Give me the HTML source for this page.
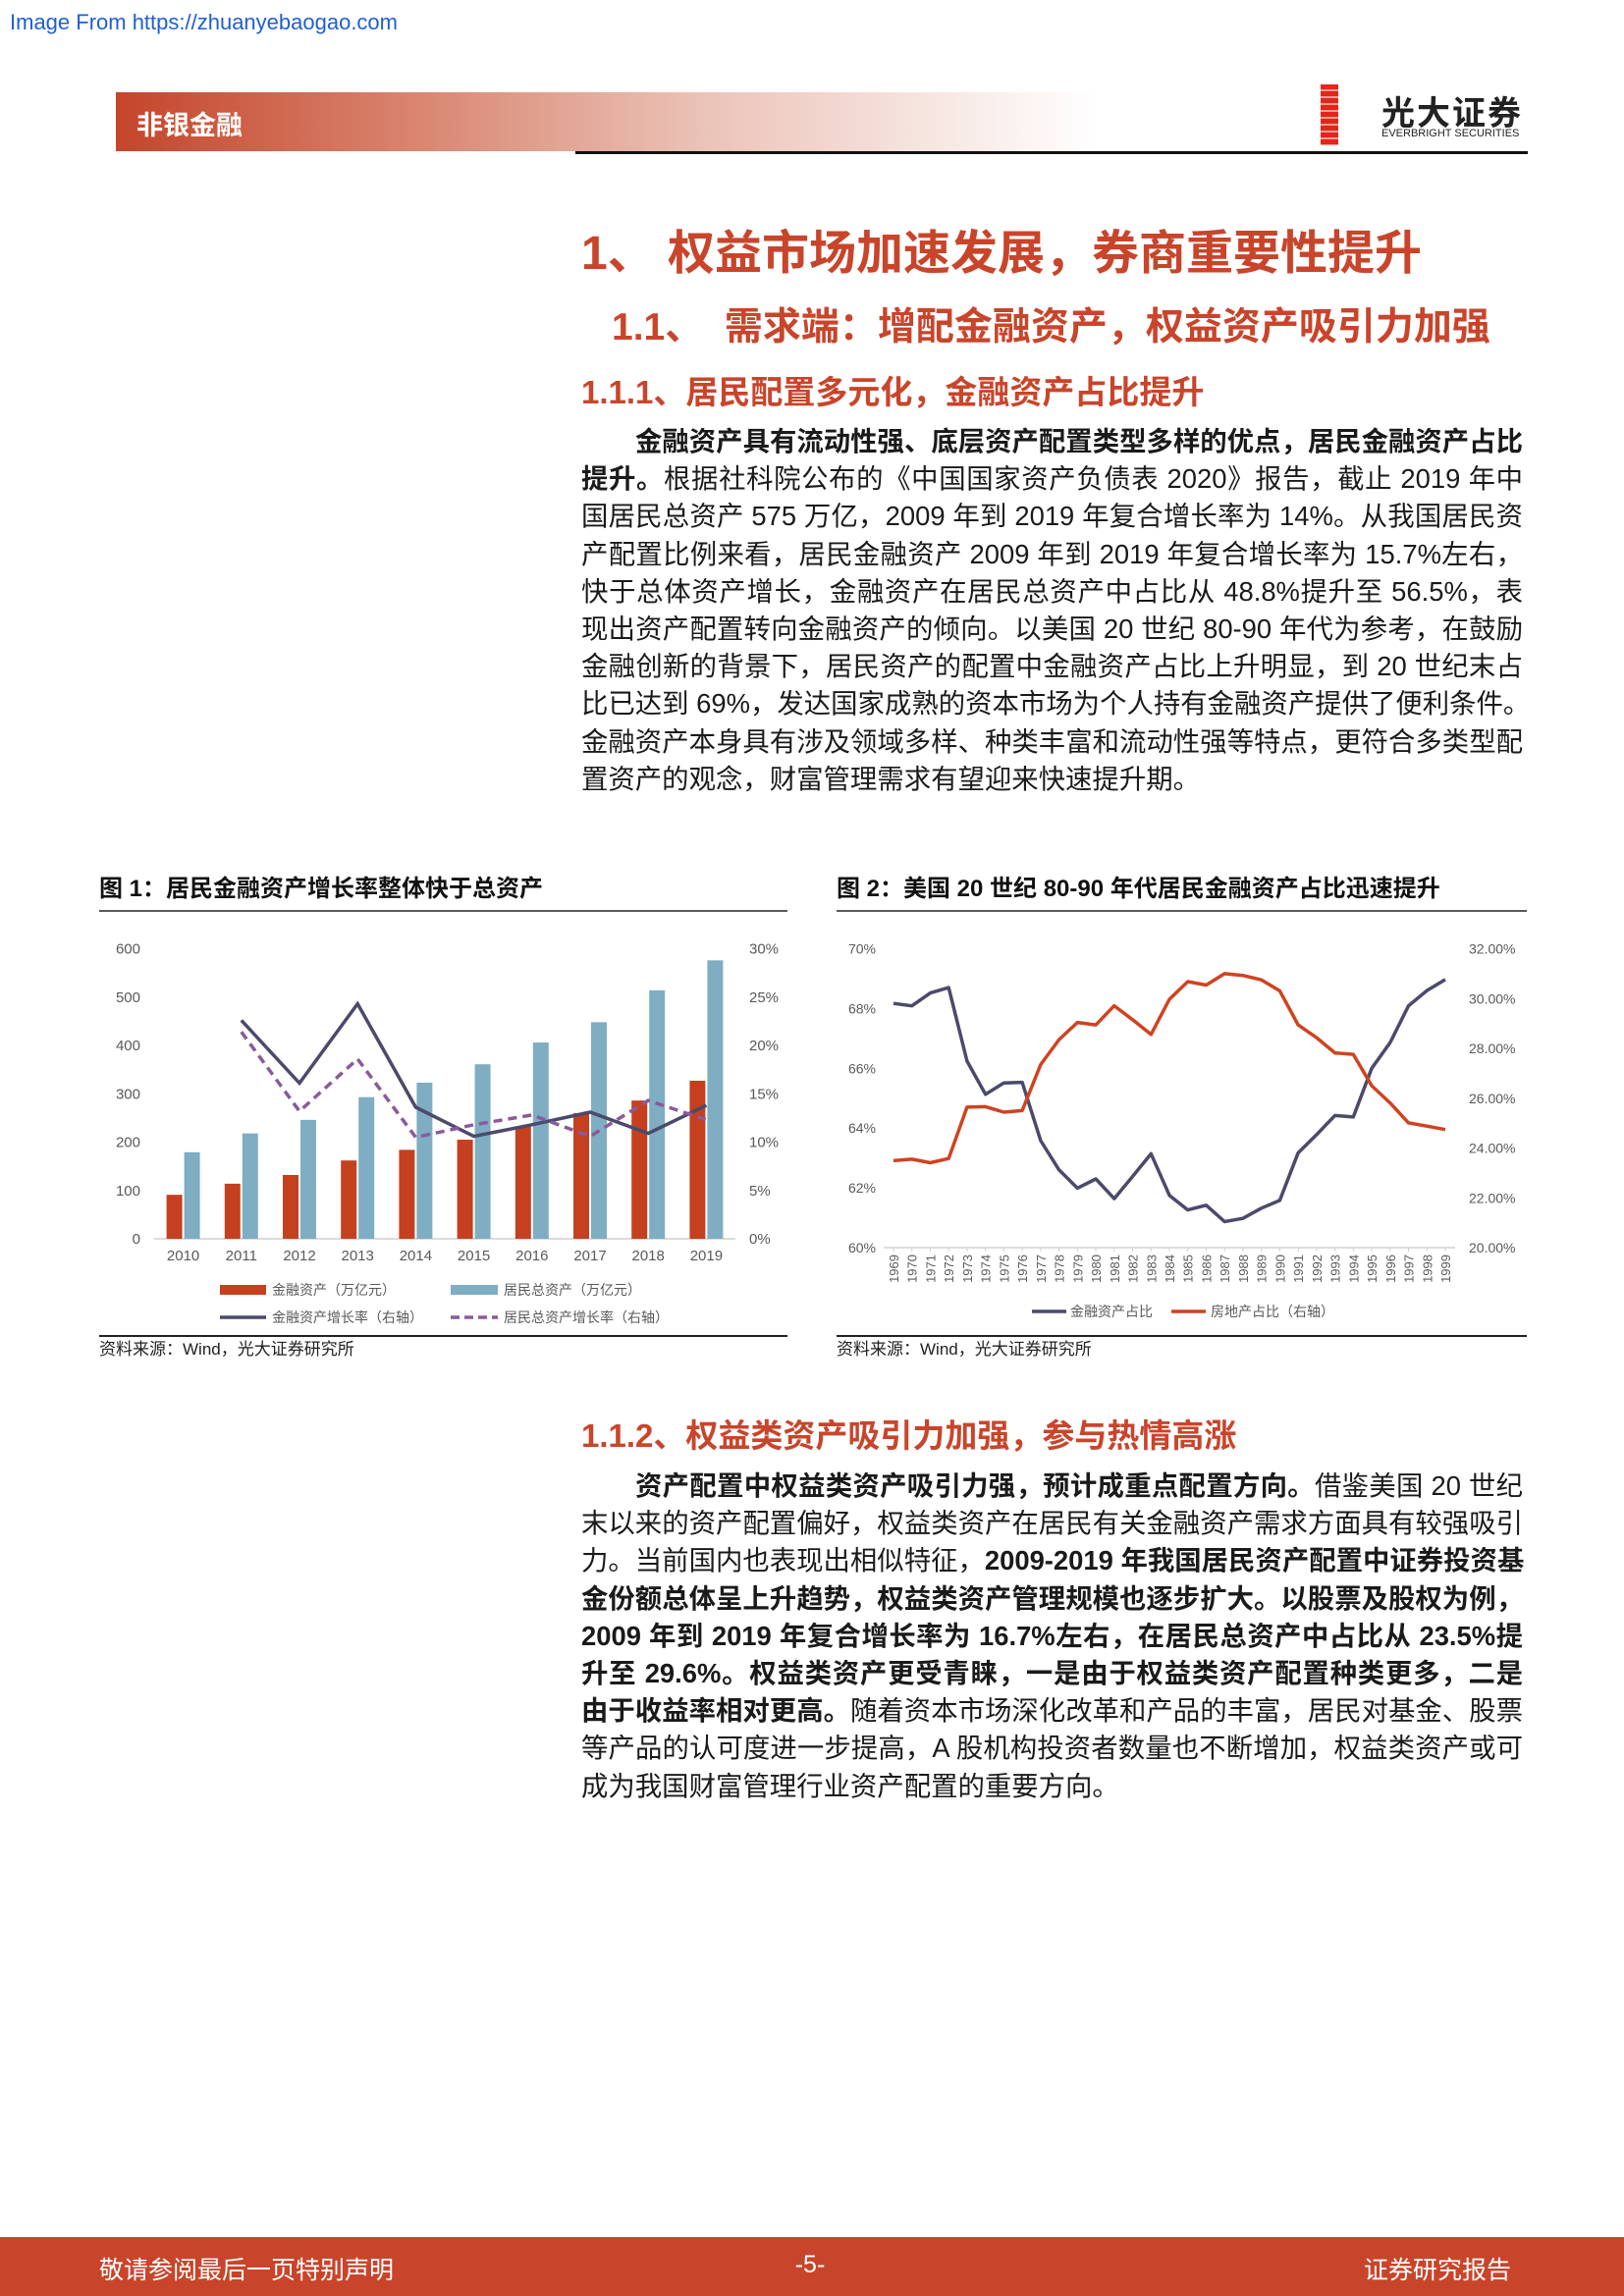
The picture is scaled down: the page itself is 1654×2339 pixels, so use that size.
<!DOCTYPE html>
<html><head><meta charset="utf-8">
<style>
html,body{margin:0;padding:0;background:#fff;}
body{width:1654px;height:2339px;position:relative;overflow:hidden;font-family:"Liberation Sans","Noto Sans CJK SC",sans-serif;}
.abs{position:absolute;}
.h{color:#c8452b;font-weight:bold;white-space:nowrap;}
.para{position:absolute;left:592px;width:959px;font-size:27.4px;line-height:38.2px;color:#1a1a1a;}
.para div{text-align:justify;text-align-last:justify;height:38.2px;white-space:nowrap;overflow:visible;}
.para div.last{text-align-last:left;}
.para div.ind{padding-left:55px;}
b{font-weight:bold;}
</style></head><body>
<div class="abs" style="left:10px;top:10px;font-size:22px;color:#1f5fcf;">Image From https://zhuanyebaogao.com</div>

<div class="abs" style="left:118px;top:94px;width:1000px;height:60px;background:linear-gradient(90deg,#c4452a 0%,#d9846f 30%,#ebc3b8 60%,#fff 100%);"></div>
<div class="abs" style="left:139px;top:106px;font-size:27px;color:#fff;font-weight:bold;">非银金融</div>
<div class="abs" style="left:586px;top:154px;width:970px;height:3px;background:#111;"></div>
<div class="abs" style="left:1345px;top:86px;width:210px;height:62px;">
 <div style="position:absolute;left:0;top:0;width:18px;height:62px;background:repeating-linear-gradient(180deg,#e2261c 0 5px,#f3a08d 5px 7px);"></div>
 <div style="position:absolute;left:62px;top:2px;font-size:34px;font-weight:bold;color:#222;letter-spacing:2px;">光大证券</div>
 <div style="position:absolute;left:62px;top:44px;font-size:11px;color:#222;">EVERBRIGHT SECURITIES</div>
</div>

<div class="abs h" style="left:592px;top:218px;font-size:48px;">1、 权益市场加速发展，券商重要性提升</div>
<div class="abs h" style="left:623px;top:302px;font-size:39px;">1.1、&nbsp;&nbsp;需求端：增配金融资产，权益资产吸引力加强</div>
<div class="abs h" style="left:592px;top:373px;font-size:33px;">1.1.1、居民配置多元化，金融资产占比提升</div>

<div class="para" style="top:431px;">
<div class="ind"><b>金融资产具有流动性强、底层资产配置类型多样的优点，居民金融资产占比</b></div>
<div><b>提升。</b>根据社科院公布的《中国国家资产负债表 2020》报告，截止 2019 年中</div>
<div>国居民总资产 575 万亿，2009 年到 2019 年复合增长率为 14%。从我国居民资</div>
<div>产配置比例来看，居民金融资产 2009 年到 2019 年复合增长率为 15.7%左右，</div>
<div>快于总体资产增长，金融资产在居民总资产中占比从 48.8%提升至 56.5%，表</div>
<div>现出资产配置转向金融资产的倾向。以美国 20 世纪 80-90 年代为参考，在鼓励</div>
<div>金融创新的背景下，居民资产的配置中金融资产占比上升明显，到 20 世纪末占</div>
<div>比已达到 69%，发达国家成熟的资本市场为个人持有金融资产提供了便利条件。</div>
<div>金融资产本身具有涉及领域多样、种类丰富和流动性强等特点，更符合多类型配</div>
<div class="last">置资产的观念，财富管理需求有望迎来快速提升期。</div>
</div>

<div class="abs h" style="left:592px;top:1436px;font-size:33px;">1.1.2、权益类资产吸引力加强，参与热情高涨</div>
<div class="para" style="top:1495px;">
<div class="ind"><b>资产配置中权益类资产吸引力强，预计成重点配置方向。</b>借鉴美国 20 世纪</div>
<div>末以来的资产配置偏好，权益类资产在居民有关金融资产需求方面具有较强吸引</div>
<div>力。当前国内也表现出相似特征，<b>2009-2019 年我国居民资产配置中证券投资基</b></div>
<div><b>金份额总体呈上升趋势，权益类资产管理规模也逐步扩大。以股票及股权为例，</b></div>
<div><b>2009 年到 2019 年复合增长率为 16.7%左右，在居民总资产中占比从 23.5%提</b></div>
<div><b>升至 29.6%。权益类资产更受青睐，一是由于权益类资产配置种类更多，二是</b></div>
<div><b>由于收益率相对更高。</b>随着资本市场深化改革和产品的丰富，居民对基金、股票</div>
<div>等产品的认可度进一步提高，A 股机构投资者数量也不断增加，权益类资产或可</div>
<div class="last">成为我国财富管理行业资产配置的重要方向。</div>
</div>

<div class="abs" style="left:0;top:2279px;width:1654px;height:60px;background:#c8452b;"></div>
<div class="abs" style="left:101px;top:2293px;font-size:25px;color:#fff;">敬请参阅最后一页特别声明</div>
<div class="abs" style="left:800px;width:50px;text-align:center;top:2293px;font-size:25px;color:#fff;">-5-</div>
<div class="abs" style="right:115px;top:2293px;font-size:25px;color:#fff;">证券研究报告</div>

<svg id="charts" class="abs" style="left:0;top:0;" width="1654" height="2339" xmlns="http://www.w3.org/2000/svg" font-family="Liberation Sans, Noto Sans CJK SC, sans-serif"></svg>

<script>
// Chart 1 data
const years1 = ['2010','2011','2012','2013','2014','2015','2016','2017','2018','2019'];
const finAssets = [91,114,132,162,184,205,232,260,286,327];
const totalAssets = [179,218,246,293,323,361,406,448,514,576];
const finGrowth = [null,22.6,16.1,24.3,13.6,10.6,11.8,13.1,10.9,13.8];
const totalGrowth = [null,21.4,13.2,18.6,10.5,11.8,12.8,10.6,14.3,12.3];
const leftTicks1 = [0,100,200,300,400,500,600];
const rightTicks1 = [0,5,10,15,20,25,30];
// Chart 2 data
const years2 = ['1969','1970','1971','1972','1973','1974','1975','1976','1977','1978','1979','1980','1981','1982','1983','1984','1985','1986','1987','1988','1989','1990','1991','1992','1993','1994','1995','1996','1997','1998','1999'];
const finShare = [68.17,68.09,68.52,68.70,66.24,65.13,65.51,65.53,63.58,62.60,61.99,62.30,61.64,62.38,63.14,61.75,61.26,61.42,60.87,60.98,61.32,61.58,63.17,63.78,64.42,64.37,66.00,66.86,68.09,68.60,68.97];
const reShare = [23.49,23.55,23.41,23.58,25.64,25.66,25.44,25.50,27.35,28.35,29.04,28.94,29.71,29.15,28.56,29.97,30.68,30.54,31.00,30.93,30.75,30.31,28.94,28.43,27.82,27.76,26.50,25.81,25.01,24.88,24.74];
const leftTicks2 = [60,62,64,66,68,70];
const rightTicks2 = [20,22,24,26,28,30,32];

const svg = document.getElementById('charts');
const NS = 'http://www.w3.org/2000/svg';
function mk(tag, attrs, parent){const e=document.createElementNS(NS,tag);for(const k in attrs)e.setAttribute(k,attrs[k]);(parent||svg).appendChild(e);return e;}
function txt(x,y,s,attrs,parent){const t=mk('text',Object.assign({x:x,y:y},attrs||{}),parent);t.textContent=s;return t;}

// ---- Chart 1 ----
const g1 = mk('g',{});


const t1=txt(101,913,'图 1：居民金融资产增长率整体快于总资产',{'font-size':24,'font-weight':'bold',fill:'#111'},g1);


mk('line',{x1:101,y1:928,x2:802,y2:928,stroke:'#222','stroke-width':1.5},g1);
const L1=157, R1=749, B1=1262, T1=966.5;
const step1=(R1-L1)/years1.length;
const x1=i=>L1+step1*(i+0.5);
const yL1=v=>B1-(v-0)/(600-0)*(B1-T1);
const yR1=v=>B1-(v-0)/(30-0)*(B1-T1);
mk('line',{x1:L1,y1:B1,x2:R1,y2:B1,stroke:'#d0d0d0','stroke-width':1.5},g1);
leftTicks1.forEach(v=>{const t=txt(143,yL1(v)+5,String(v),{'font-size':15,fill:'#595959','text-anchor':'end'},g1);});
rightTicks1.forEach(v=>{const t=txt(763,yR1(v)+5,v+'%',{'font-size':15,fill:'#595959'},g1);});
const bw=step1*0.27;
years1.forEach((yr,i)=>{
 const t=txt(x1(i),1284,yr,{'font-size':15,fill:'#595959','text-anchor':'middle'},g1);
 
 
 const r=mk('rect',{x:x1(i)-bw-1,y:yL1(finAssets[i]),width:bw,height:B1-yL1(finAssets[i]),fill:'#c4401f'},g1);
 
 
 const b=mk('rect',{x:x1(i)+1,y:yL1(totalAssets[i]),width:bw,height:B1-yL1(totalAssets[i]),fill:'#7fadc2'},g1);
 
 
});
function pathOf(arr,xf,yf){let d='';arr.forEach((v,i)=>{if(v==null)return;d+=(d?'L':'M')+xf(i).toFixed(1)+','+yf(v).toFixed(1);});return d;}
const pl1=mk('path',{d:pathOf(finGrowth,x1,yR1),fill:'none',stroke:'#4b4a6b','stroke-width':3.5},g1);


const pl2=mk('path',{d:pathOf(totalGrowth,x1,yR1),fill:'none',stroke:'#8a5a9b','stroke-width':3.5,'stroke-dasharray':'9,6'},g1);


// legend
const lg1=mk('g',{},g1);


mk('rect',{x:224,y:1309,width:47,height:10,fill:'#c4401f'},lg1);
txt(277,1319,'金融资产（万亿元）',{'font-size':14,fill:'#595959'},lg1);
mk('rect',{x:459,y:1309,width:48,height:10,fill:'#7fadc2'},lg1);
txt(513,1319,'居民总资产（万亿元）',{'font-size':14,fill:'#595959'},lg1);
mk('line',{x1:224,y1:1342,x2:271,y2:1342,stroke:'#4b4a6b','stroke-width':3.5},lg1);
txt(277,1347,'金融资产增长率（右轴）',{'font-size':14,fill:'#595959'},lg1);
mk('line',{x1:459,y1:1342,x2:507,y2:1342,stroke:'#8a5a9b','stroke-width':3.5,'stroke-dasharray':'9,5'},lg1);
txt(513,1347,'居民总资产增长率（右轴）',{'font-size':14,fill:'#595959'},lg1);
mk('line',{x1:101,y1:1361,x2:802,y2:1361,stroke:'#222','stroke-width':2},g1);
const s1=txt(101,1380,'资料来源：Wind，光大证券研究所',{'font-size':17,fill:'#222'},g1);



// ---- Chart 2 ----
const g2 = mk('g',{});


const t2=txt(852,913,'图 2：美国 20 世纪 80-90 年代居民金融资产占比迅速提升',{'font-size':24,'font-weight':'bold',fill:'#111'},g2);


mk('line',{x1:852,y1:928,x2:1555,y2:928,stroke:'#222','stroke-width':1.5},g2);
const B2=1271, T2=966.5, X0=910, X1=1472;
const x2=i=>X0+(X1-X0)*i/(years2.length-1);
const yL2=v=>B2-(v-60)/(70-60)*(B2-T2);
const yR2=v=>B2-(v-20)/(32-20)*(B2-T2);
mk('line',{x1:900,y1:B2,x2:1482,y2:B2,stroke:'#d0d0d0','stroke-width':1.5},g2);
leftTicks2.forEach(v=>{const t=txt(892,yL2(v)+5,v+'%',{'font-size':14,fill:'#595959','text-anchor':'end'},g2);});
rightTicks2.forEach(v=>{const t=txt(1496,yR2(v)+5,v.toFixed(2)+'%',{'font-size':14,fill:'#595959'},g2);});
years2.forEach((yr,i)=>{
 const t=txt(0,0,yr,{'font-size':13,fill:'#595959','text-anchor':'end',transform:'translate('+(x2(i)+5)+',1278) rotate(-90)'},g2);
 
 
 mk('line',{x1:x2(i),y1:B2,x2:x2(i),y2:B2+4,stroke:'#d0d0d0'},g2);
});
const pl3=mk('path',{d:pathOf(finShare,x2,yL2),fill:'none',stroke:'#4b4a6b','stroke-width':3.5,'stroke-linejoin':'round'},g2);


const pl4=mk('path',{d:pathOf(reShare,x2,yR2),fill:'none',stroke:'#cf4320','stroke-width':3.5,'stroke-linejoin':'round'},g2);


const lg2=mk('g',{},g2);


mk('line',{x1:1051,y1:1336,x2:1086,y2:1336,stroke:'#4b4a6b','stroke-width':3.5},lg2);
txt(1090,1341,'金融资产占比',{'font-size':14,fill:'#595959'},lg2);
mk('line',{x1:1193,y1:1336,x2:1228,y2:1336,stroke:'#cf4320','stroke-width':3.5},lg2);
txt(1233,1341,'房地产占比（右轴）',{'font-size':14,fill:'#595959'},lg2);
mk('line',{x1:852,y1:1361,x2:1555,y2:1361,stroke:'#222','stroke-width':2},g2);
const s2=txt(852,1380,'资料来源：Wind，光大证券研究所',{'font-size':17,fill:'#222'},g2);


</script>
</body></html>
